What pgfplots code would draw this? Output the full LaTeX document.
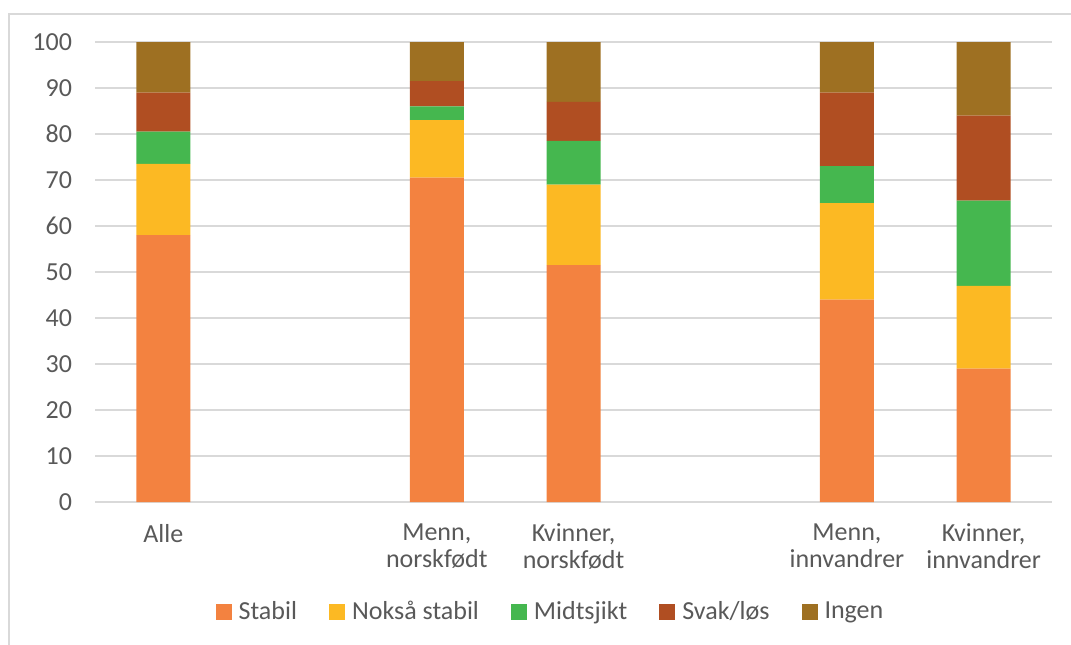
\documentclass[border=0pt]{standalone}
\usepackage{pgfplots}
\pgfplotsset{compat=1.18}
\usepackage{fontspec}
\setmainfont{Carlito}

\definecolor{stabil}{HTML}{F38240}
\definecolor{noksa}{HTML}{FCB923}
\definecolor{midt}{HTML}{45B74F}
\definecolor{svak}{HTML}{B04E22}
\definecolor{ingen}{HTML}{9E7022}
\definecolor{txt}{HTML}{595959}
\definecolor{gridc}{HTML}{D9D9D9}

\newcommand{\chartfont}{\fontsize{13}{13.5}\selectfont}

\begin{document}
\begin{tikzpicture}
\begin{axis}[
    scale only axis,
    width=478.5pt, height=230pt,
    ybar stacked,
    bar width=27pt,
    xmin=-0.5, xmax=6.5,
    ymin=0, ymax=100,
    xtick={0,2,3,5,6},
    xticklabels={Alle, {Menn,\\norskfødt}, {Kvinner,\\norskfødt},
                 {Menn,\\innvandrer}, {Kvinner,\\innvandrer}},
    ytick={0,10,...,100},
    ymajorgrids,
    grid style={gridc, line width=0.75pt},
    axis line style={draw=none},
    tick style={draw=none},
    /pgf/number format/assume math mode=true,
    tick label style={font=\chartfont, text=txt},
    yticklabel style={xshift=-8pt},
    x tick label style={align=center, yshift=-7.5pt},
    legend columns=-1,
    legend style={at={(0.477,-0.238)}, anchor=center, draw=none,
        font=\chartfont, text=txt,
        /tikz/every odd column/.append style={column sep=1.5pt},
        /tikz/every even column/.append style={column sep=14pt}},
    legend image code/.code={\fill[#1] (0pt,-4pt) rectangle (8pt,4pt);},
    every axis plot/.append style={draw=none},
]
\addplot[fill=stabil] coordinates {(0,58) (2,70.5) (3,51.5) (5,44) (6,29)};
\addplot[fill=noksa] coordinates {(0,15.5) (2,12.5) (3,17.5) (5,21) (6,18)};
\addplot[fill=midt] coordinates {(0,7) (2,3) (3,9.5) (5,8) (6,18.5)};
\addplot[fill=svak] coordinates {(0,8.5) (2,5.5) (3,8.5) (5,16) (6,18.5)};
\addplot[fill=ingen] coordinates {(0,11) (2,8.5) (3,13) (5,11) (6,16)};
\legend{Stabil, Nokså stabil, Midtsjikt, Svak/løs, Ingen}
\end{axis}
\draw[gridc, line width=0.75pt]
    ([xshift=-43pt,yshift=-80pt]current axis.south west)
    -- ([xshift=-43pt,yshift=14pt]current axis.north west)
    -- ([xshift=20pt,yshift=14pt]current axis.north east);
\pgfresetboundingbox
\path[use as bounding box]
    ([xshift=-47.5pt,yshift=-71pt]current axis.south west)
    rectangle ([xshift=9.5pt,yshift=21pt]current axis.north east);
\end{tikzpicture}
\end{document}
